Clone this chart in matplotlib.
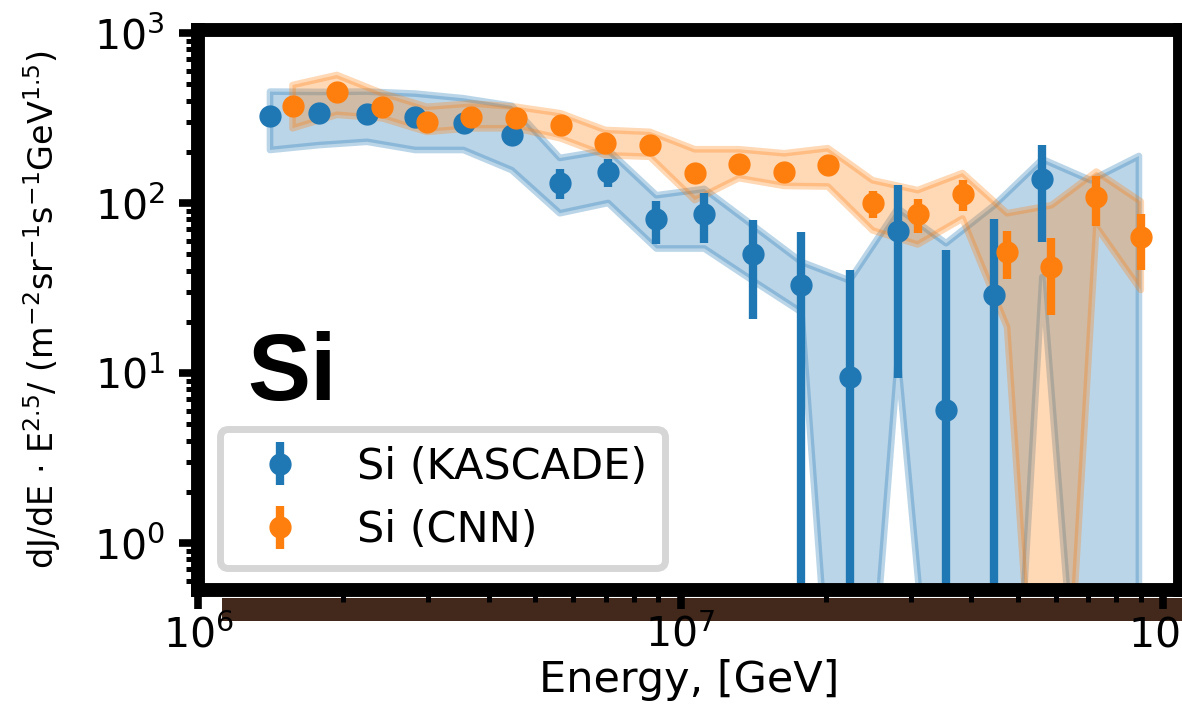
import numpy as np
import matplotlib
matplotlib.use("Agg")
import matplotlib.pyplot as plt
from matplotlib.patches import Rectangle

# ---------------- data ----------------
kascade_energy = [1.41e6, 1.78e6, 2.24e6, 2.82e6, 3.55e6, 4.47e6, 5.62e6, 7.08e6,
                  8.91e6, 1.12e7, 1.41e7, 1.78e7, 2.24e7, 2.82e7, 3.55e7, 4.47e7,
                  5.62e7, 7.08e7, 8.91e7]
kascade_flux = [325, 340, 333, 322, 297, 251, 131.5, 153, 80, 86, 50.4, 33, 9.5,
                68.4, 6.05, 28.8, 139, np.nan, np.nan]
kascade_err = [14, 14, 14, 14, 13, 12, 26, 29, 23, 28, 29.5, 34.3, 30.9, 59, 47,
               51.4, 80, np.nan, np.nan]
kascade_sys_low = [205, 219, 229, 205, 205, 156, 87, 100, 54, 54, 35, 22.8, 3e-3,
                   12, 1e-2, 5e-4, 36.7, 9e-3, 1e-3]
kascade_sys_high = [452, 450, 452, 440, 413, 373, 184, 205, 111, 121, 74, 45, 35,
                    93, 58, 97, 181, 136, 189]

cnn_energy = [1.57e6, 1.94e6, 2.41e6, 2.98e6, 3.68e6, 4.56e6, 5.64e6, 6.98e6,
              8.64e6, 1.07e7, 1.32e7, 1.64e7, 2.02e7, 2.50e7, 3.10e7, 3.84e7,
              4.75e7, 5.87e7, 7.27e7, 8.99e7]
cnn_flux = [373, 448, 366, 299, 322, 315, 288, 226, 219, 150, 170, 153, 167, 99.5,
            86, 113, 51.8, 42.2, 109, 63.4]
cnn_err = [15, 16, 14, 12, 12, 12, 11, 10, 10, 10, 11, 10, 11, 18, 19.6, 22.7,
           16.3, 20.2, 35.9, 23.1]
cnn_sys_low = [275, 330, 315, 262, 275, 275, 240, 191, 187, 104, 140, 126, 125, 69,
               57, 81, 18.6, 2.5e-3, 72.6, 30.8]
cnn_sys_high = [494, 566, 442, 368, 385, 368, 337, 269, 262, 207, 207, 196, 210,
                136, 119, 150, 87, 97, 153, 102]

labels = ["Si (KASCADE)", "Si (CNN)"]
element = "Si"
xlabel = "Energy, [GeV]"
ylabel = r"dJ/dE $\cdot$ E$^{2.5}$/ (m$^{-2}$sr$^{-1}$s$^{-1}$GeV$^{1.5}$)"

blue = "#1f77b4"
orange = "#ff7f0e"

# ---------------- figure ----------------
fig = plt.figure(figsize=(11.82, 7.27), dpi=100)
fig.patch.set_facecolor("white")
ax = fig.add_axes([198 / 1182, 137 / 727, 982 / 1182, 560 / 727])

# brown strip below the axes
fig.add_artist(Rectangle((222 / 1182, 106 / 727), 1 - 222 / 1182, 23 / 727,
                         transform=fig.transFigure, facecolor="#43291b",
                         edgecolor="none", zorder=-1))

ax.set_xscale("log")
ax.set_yscale("log")

ax.fill_between(kascade_energy, kascade_sys_low, kascade_sys_high, color=blue,
                alpha=0.3, lw=4.8)
ax.fill_between(cnn_energy, cnn_sys_low, cnn_sys_high, color=orange,
                alpha=0.3, lw=4.8)

ax.errorbar(kascade_energy, kascade_flux, yerr=kascade_err, fmt="o", color=blue,
            ms=15, elinewidth=6, capsize=0, label=labels[0])
ax.errorbar(cnn_energy, cnn_flux, yerr=cnn_err, fmt="o", color=orange,
            ms=15, elinewidth=6, capsize=0, label=labels[1])

ax.set_xlim(1.0e6, 1.084e8)
ax.set_ylim(0.529, 1041)

for sp in ax.spines.values():
    sp.set_linewidth(10)

ax.tick_params(which="major", length=14, width=5.5, labelsize=29.5)
ax.tick_params(which="minor", length=8.5, width=3.6)
ax.tick_params(axis="x", which="major", pad=4)
ax.tick_params(axis="y", which="major", pad=10)

ax.set_xlabel(xlabel, fontsize=31, labelpad=2)
ax.set_ylabel(ylabel, fontsize=24)
ax.yaxis.set_label_coords(-0.137, 0.5)

ax.text(0.05, 0.339, element, transform=ax.transAxes, fontsize=68,
        fontweight="bold", family="Liberation Sans", ha="left", va="baseline")

leg = ax.legend(loc="lower left", fontsize=31)
leg.get_frame().set_linewidth(5)

fig.savefig("out.png", dpi=100)
